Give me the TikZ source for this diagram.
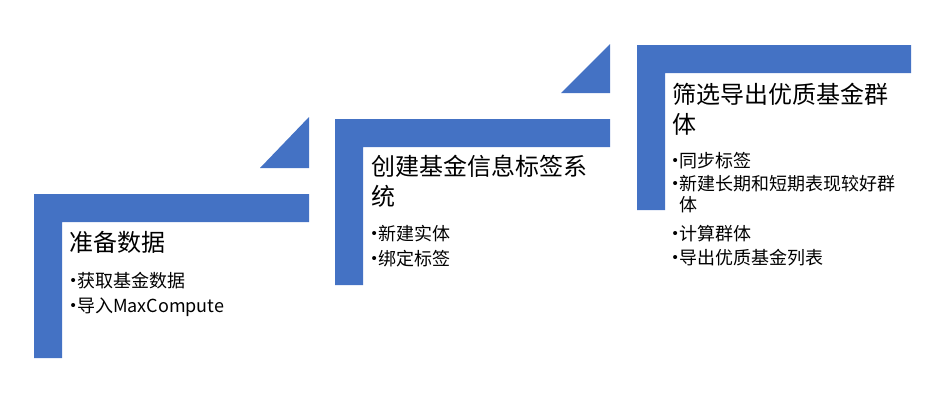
\documentclass[tikz,border=0pt]{standalone}
\usepackage{fontspec}
\setmainfont{Noto Sans CJK SC}
\newfontfamily\bulfont{Liberation Sans}
\definecolor{stepblue}{HTML}{4472C4}
\tikzset{
  steptitle/.style={anchor=base west,inner sep=0pt,align=left,font=\fontsize{24}{30}\selectfont},
  stepitem/.style={anchor=base west,inner sep=0pt,align=left,font=\fontsize{18}{21}\selectfont},
}
\newcommand{\bul}{\makebox[6.5pt][l]{\raisebox{1.5pt}{\bulfont\fontsize{15}{15}\selectfont •}}}
\begin{document}
\begin{tikzpicture}[line cap=round,line join=round,x=1pt,y=-1pt]
\useasboundingbox (0,0) rectangle (942,400);
% step 1
\fill [stepblue] (34,194) -- (309,194) -- (309,222) -- (62,222) -- (62,358) -- (34,358) -- cycle;
\fill [stepblue] (260,168) -- (309,168) -- (309,117) -- cycle;
% step 2
\fill [stepblue] (335,119) -- (610,119) -- (610,147) -- (363,147) -- (363,285) -- (335,285) -- cycle;
\fill [stepblue] (561,93) -- (610,93) -- (610,44) -- cycle;
% step 3
\fill [stepblue] (637,45) -- (911,45) -- (911,73) -- (665,73) -- (665,210) -- (637,210) -- cycle;
% texts (base = last line)
\node [steptitle] (title1) at (69,251) {准备数据};
\node [stepitem] (item11) at (70.5,287) {\bul 获取基金数据};
\node [stepitem] (item12) at (70.5,312) {\bul 导入MaxCompute};
\node [steptitle] (title2) at (371,205) {创建基金信息标签系\\统};
\node [stepitem] (item21) at (371.5,240) {\bul 新建实体};
\node [stepitem] (item22) at (371.5,265) {\bul 绑定标签};
\node [steptitle] (title3) at (672,133) {筛选导出优质基金群\\体};
\node [stepitem] (item31) at (672.5,167) {\bul 同步标签};
\node [stepitem] (item32) at (672.5,211) {\bul 新建长期和短期表现较好群\\\hspace*{6.5pt}体};
\node [stepitem] (item33) at (672.5,240) {\bul 计算群体};
\node [stepitem] (item34) at (672.5,264) {\bul 导出优质基金列表};
\end{tikzpicture}
\end{document}
